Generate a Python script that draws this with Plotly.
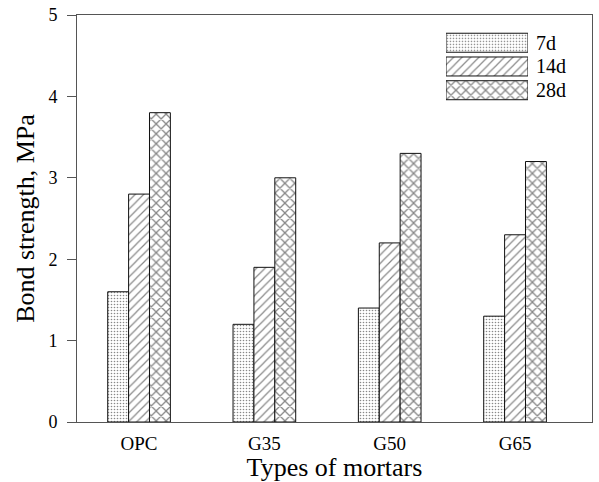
import plotly.graph_objects as go

categories = ["OPC", "G35", "G50", "G65"]
ages = ["7d", "14d", "28d"]
vals_7d = [1.6, 1.2, 1.4, 1.3]
vals_14d = [2.8, 1.9, 2.2, 2.3]
vals_28d = [3.8, 3.0, 3.3, 3.2]
series = [vals_7d, vals_14d, vals_28d]
patterns = [".", "/", "x"]
pat_sizes = [3, 6, 7]
pat_solid = [0.22, 0.2, 0.34]

FONT = "Liberation Serif"
AX = "#555555"
INK = "#111111"

fig = go.Figure()
for name, vals, shp, sz, so in zip(ages, series, patterns, pat_sizes, pat_solid):
    fig.add_trace(go.Bar(
        x=categories, y=vals, name=name, showlegend=False,
        marker=dict(color="white", line=dict(color=INK, width=1),
                    pattern=dict(shape=shp, size=sz, solidity=so, fgcolor=INK,
                                 bgcolor="white", fillmode="overlay")),
        xaxis="x", yaxis="y"))

# legend drawn as an inset of horizontal bars
fig.add_trace(go.Bar(
    y=ages, x=[1, 1, 1], orientation="h", width=0.8, showlegend=False,
    hoverinfo="skip",
    marker=dict(color="white", line=dict(color=INK, width=1),
                pattern=dict(shape=patterns, size=pat_sizes, solidity=pat_solid,
                             fgcolor=INK, bgcolor="white", fillmode="overlay")),
    xaxis="x2", yaxis="y2"))

for age in ages:
    fig.add_annotation(text=age, x=1.0, y=age, xref="x2 domain", yref="y2",
                       xanchor="left", yanchor="middle", xshift=6, showarrow=False,
                       font=dict(family=FONT, size=20, color="black"))

fig.update_layout(
    width=599, height=482, autosize=False,
    margin=dict(l=77, r=7, t=15, b=60, autoexpand=False),
    plot_bgcolor="white", paper_bgcolor="white",
    barmode="group", bargap=0.5, bargroupgap=0,
    font=dict(family=FONT, color="black", size=17),
    xaxis=dict(
        type="category", range=[-0.495, 3.614],
        showline=True, linecolor=AX, linewidth=1, mirror=True,
        ticks="", showgrid=False, zeroline=False,
        tickfont=dict(family=FONT, size=19),
        ticklabelstandoff=4,
        title=dict(text="Types of mortars", font=dict(family=FONT, size=26), standoff=2),
    ),
    yaxis=dict(
        range=[0, 5], tickvals=[0, 1, 2, 3, 4, 5],
        showline=True, linecolor=AX, linewidth=1, mirror=True,
        ticks="outside", ticklen=9, tickcolor=AX,
        showgrid=False, zeroline=False,
        tickfont=dict(family=FONT, size=18),
        ticklabelstandoff=6,
        title=dict(text="Bond strength, MPa", font=dict(family=FONT, size=26), standoff=6),
    ),
    xaxis2=dict(domain=[0.7165, 0.8757], range=[0, 1], anchor="y2",
                showline=False, showgrid=False, zeroline=False,
                showticklabels=False, ticks="", fixedrange=True),
    yaxis2=dict(domain=[0.786, 0.961], anchor="x2",
                type="category", categoryorder="array", categoryarray=["28d", "14d", "7d"],
                range=[-0.5, 2.5], showticklabels=False,
                showline=False, showgrid=False, zeroline=False, ticks="",
                fixedrange=True),
)

fig.write_html("out.html", config={"responsive": False, "displayModeBar": False},
               post_script="document.body.style.margin='0';")
